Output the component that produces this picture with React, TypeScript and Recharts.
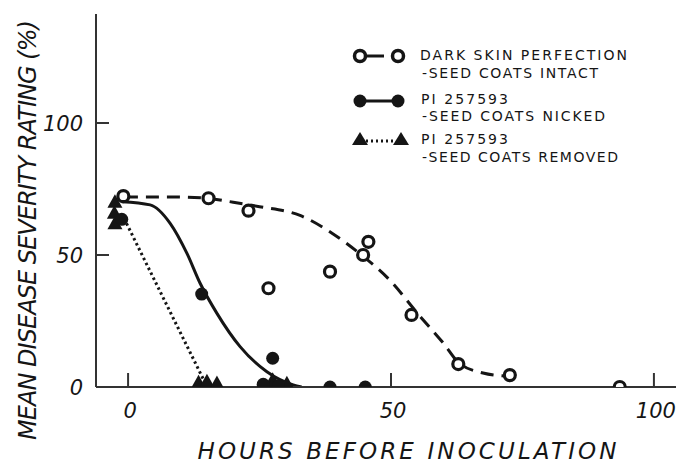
import {
  ComposedChart,
  Line,
  Scatter,
  XAxis,
  YAxis,
  Legend,
} from "recharts"

const intactHours = [-0.9, 15.3, 22.9, 26.7, 38.4, 44.7, 45.7, 53.9, 62.8, 72.6, 93.5]
const intactSeverity = [72.3, 71.5, 66.8, 37.4, 43.7, 50, 55, 27.3, 8.7, 4.5, 0]

const nickedHours = [-1.2, 14.0, 27.5, 25.7, 28.6, 38.4, 45.1]
const nickedSeverity = [63.5, 35.2, 10.9, 1.0, 0.3, 0, 0]

const removedHours = [-2.5, -2.6, -2.5, 13.4, 15.0, 16.9, 27.5, 27.3, 30.2]
const removedSeverity = [70.2, 66.0, 62.0, 1.8, 2.2, 1.5, 2.7, 0.2, 1.4]

// fitted curves as drawn in the figure
const intactCurveHours = [-0.6, 8, 15, 20, 25, 32.7, 39, 44, 50, 55, 60, 63, 67.5, 72.6]
const intactCurveSeverity = [72, 72, 71.5, 70, 68.3, 65, 58, 50.6, 40, 28, 16.5, 9, 5.3, 4]

const nickedCurveHours = [-1.2, 4.2, 8, 11.2, 13.7, 16.9, 21.3, 26.4, 31.4, 33]
const nickedCurveSeverity = [70.2, 69, 62, 50.6, 39.3, 27.9, 15.3, 5.8, 0.8, 0]

const removedCurveHours = [-0.3, 14.3]
const removedCurveSeverity = [62, 3]

const xTicks = [0, 50, 100]
const yTicks = [0, 50, 100]
const rightTicks = [50, 100]

const zip = (xs: number[], ys: number[]) => xs.map((x, i) => ({ x, y: ys[i] }))

const intactPts = zip(intactHours, intactSeverity)
const nickedPts = zip(nickedHours, nickedSeverity)
const removedPts = zip(removedHours, removedSeverity)
const intactCurve = zip(intactCurveHours, intactCurveSeverity)
const nickedCurve = zip(nickedCurveHours, nickedCurveSeverity)
const removedCurve = zip(removedCurveHours, removedCurveSeverity)

const INK = "#151515"
const FONT = "'DejaVu Sans', sans-serif"

const OpenDot = (p: any) => (
  <circle cx={p.cx} cy={p.cy} r={5.5} fill="#fff" stroke={INK} strokeWidth={3.2} />
)
const FullDot = (p: any) => <circle cx={p.cx} cy={p.cy} r={6.5} fill={INK} />
const Tri = (p: any) => (
  <polygon
    points={`${p.cx},${p.cy - 7.5} ${p.cx - 7.5},${p.cy + 6} ${p.cx + 7.5},${p.cy + 6}`}
    fill={INK}
  />
)

const XTick = (p: any) => (
  <g>
    <line x1={p.x} x2={p.x} y1={p.y} y2={p.y - 14} stroke="#333" strokeWidth={2} />
    <text x={p.x + 2} y={p.y + 31} textAnchor="middle" fontSize={21} fontStyle="italic" fontFamily={FONT} fill={INK}>
      {p.payload.value}
    </text>
  </g>
)

const YTick = (p: any) => (
  <g>
    {p.payload.value !== 0 && (
      <line x1={p.x} x2={p.x + 13} y1={p.y} y2={p.y} stroke="#333" strokeWidth={2} />
    )}
    <text x={p.x - 13} y={p.y + 8} textAnchor="end" fontSize={21} fontStyle="italic" fontFamily={FONT} fill={INK}>
      {p.payload.value}
    </text>
  </g>
)

const RTick = (p: any) => (
  <line x1={p.x - 11} x2={p.x} y1={p.y} y2={p.y} stroke="#333" strokeWidth={2} />
)

const legendText = (x: number, y: number, s: string, w: number) => (
  <text x={x} y={y} fontSize={14} fontFamily={FONT} fill={INK} textLength={w} lengthAdjust="spacing">
    {s}
  </text>
)

// legend box sits at left 340, top 40
function LegendBox() {
  return (
    <svg width={320} height={140} style={{ display: "block" }}>
      <g transform="translate(-340,-40)">
        <line x1={366} x2={384} y1={56} y2={56} stroke={INK} strokeWidth={3} />
        <circle cx={360} cy={56} r={5.5} fill="#fff" stroke={INK} strokeWidth={3.5} />
        <circle cx={398} cy={56} r={5.5} fill="#fff" stroke={INK} strokeWidth={3.5} />
        {legendText(420, 60, "DARK SKIN PERFECTION", 207)}
        {legendText(422, 78, "-SEED COATS INTACT", 176)}

        <line x1={360} x2={398} y1={101} y2={101} stroke={INK} strokeWidth={3} />
        <circle cx={360} cy={101} r={6.5} fill={INK} />
        <circle cx={398} cy={101} r={6.5} fill={INK} />
        {legendText(421, 104, "PI 257593", 87)}
        {legendText(422, 121, "-SEED COATS NICKED", 183)}

        <line x1={366} x2={396} y1={141} y2={141} stroke={INK} strokeWidth={3} strokeDasharray="2 3" />
        <polygon points="360,132 352,145 368,145" fill={INK} />
        <polygon points="401,132 393,145 409,145" fill={INK} />
        {legendText(421, 144, "PI 257593", 87)}
        {legendText(422, 162, "-SEED COATS REMOVED", 196)}
      </g>
    </svg>
  )
}

export default function App() {
  return (
    <div style={{ position: "absolute", left: 0, top: 0, width: 676, height: 467, background: "#fff" }}>
      <ComposedChart width={676} height={467} margin={{ top: 14, right: 0, bottom: 0, left: 0 }}>
        <XAxis
          type="number"
          dataKey="x"
          domain={[-6.1, 104.2]}
          ticks={xTicks}
          allowDataOverflow
          height={80}
          tickSize={0}
          tickMargin={0}
          tickLine={false}
          axisLine={{ stroke: "#333", strokeWidth: 2 }}
          tick={XTick}
          label={{
            content: () => (
              <text x={407} y={459} textAnchor="middle" fontSize={23} fontStyle="italic" fontFamily={FONT} fill={INK} textLength={419} lengthAdjust="spacing">
                HOURS BEFORE INOCULATION
              </text>
            ),
          }}
        />
        <YAxis
          yAxisId="left"
          type="number"
          domain={[0, 141.3]}
          ticks={yTicks}
          allowDataOverflow
          width={96}
          tickSize={0}
          tickMargin={0}
          tickLine={false}
          axisLine={{ stroke: "#333", strokeWidth: 2 }}
          tick={YTick}
          label={{
            content: () => (
              <text x={0} y={0} transform="translate(36,230) rotate(-90)" textAnchor="middle" fontSize={24} fontStyle="italic" fontFamily={FONT} fill={INK} textLength={420} lengthAdjust="spacing">
                MEAN DISEASE SEVERITY RATING (%)
              </text>
            ),
          }}
        />
        <YAxis
          yAxisId="right"
          orientation="right"
          type="number"
          domain={[0, 141.3]}
          ticks={rightTicks}
          width={0}
          tickSize={0}
          tickMargin={0}
          tickLine={false}
          axisLine={false}
          tick={RTick}
        />
        {/* top border of the frame */}
        <XAxis xAxisId="top" orientation="top" type="number" domain={[-6.1, 104.2]} height={0} tick={false} tickLine={false} axisLine={{ stroke: "#333", strokeWidth: 2 }} />

        <Line yAxisId="left" data={intactCurve} dataKey="y" type="monotone" stroke={INK} strokeWidth={3} strokeDasharray="13 8" dot={false} isAnimationActive={false} />
        <Line yAxisId="left" data={nickedCurve} dataKey="y" type="monotone" stroke={INK} strokeWidth={3} dot={false} isAnimationActive={false} />
        <Line yAxisId="left" data={removedCurve} dataKey="y" type="linear" stroke={INK} strokeWidth={3} strokeDasharray="2.5 3" dot={false} isAnimationActive={false} />

        <Scatter yAxisId="left" data={removedPts} dataKey="y" shape={Tri} isAnimationActive={false} />
        <Scatter yAxisId="left" data={nickedPts} dataKey="y" shape={FullDot} isAnimationActive={false} />
        <Scatter yAxisId="left" data={intactPts} dataKey="y" shape={OpenDot} isAnimationActive={false} />

        <Legend
          verticalAlign="middle"
          align="center"
          layout="horizontal"
          wrapperStyle={{ left: 340, top: 40, width: 320, height: 140 }}
          content={() => <LegendBox />}
        />
      </ComposedChart>
    </div>
  )
}
